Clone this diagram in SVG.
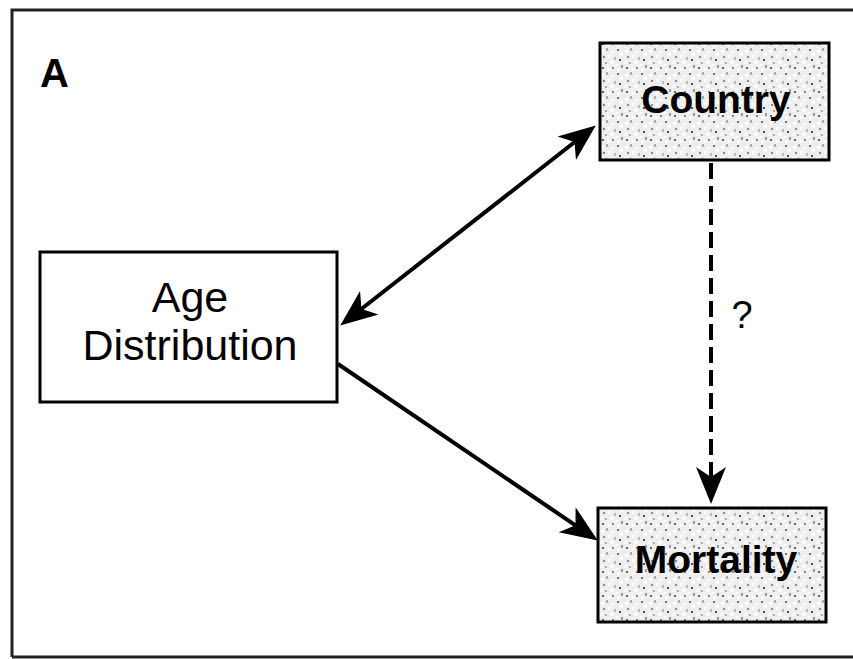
<svg xmlns="http://www.w3.org/2000/svg" width="853" height="659" viewBox="0 0 853 659">
<style>
.box{stroke:#000;stroke-width:3}
.plain{fill:#fff}
.shaded{fill:url(#stipple)}
.lbl{font-family:"Liberation Sans",Arial,sans-serif;fill:#000;text-anchor:middle}
.conn{stroke:#000;stroke-width:4;fill:none}
</style>
<defs>
<pattern id="stipple" patternUnits="userSpaceOnUse" width="24" height="24">
<rect width="24" height="24" fill="#eeeeee"/>
<rect x="1" y="2" width="3" height="3" fill="#fff"/>
<rect x="6" y="0" width="2" height="3" fill="#aaa"/>
<rect x="11" y="3" width="3" height="2" fill="#fff"/>
<rect x="17" y="1" width="2" height="2" fill="#777"/>
<rect x="20" y="5" width="3" height="3" fill="#fff"/>
<rect x="3" y="8" width="2" height="2" fill="#888"/>
<rect x="8" y="7" width="3" height="3" fill="#fff"/>
<rect x="14" y="9" width="2" height="3" fill="#bbb"/>
<rect x="19" y="11" width="2" height="2" fill="#555"/>
<rect x="0" y="13" width="3" height="3" fill="#fff"/>
<rect x="5" y="14" width="2" height="2" fill="#aaa"/>
<rect x="10" y="13" width="3" height="3" fill="#fff"/>
<rect x="15" y="16" width="3" height="2" fill="#fff"/>
<rect x="21" y="17" width="2" height="3" fill="#999"/>
<rect x="2" y="19" width="2" height="2" fill="#666"/>
<rect x="7" y="20" width="3" height="3" fill="#fff"/>
<rect x="12" y="19" width="2" height="2" fill="#888"/>
<rect x="17" y="21" width="3" height="2" fill="#fff"/>
</pattern>
<marker id="ah" markerUnits="userSpaceOnUse" markerWidth="40" markerHeight="34" viewBox="0 -17 40 34" refX="30" refY="0" orient="auto-start-reverse">
<path d="M37,0 L0,-15 L10,0 L0,15 Z" fill="#000"/>
</marker>
</defs>
<g id="frame">
<path d="M12,657 L12,10 L853,10 M12,657 L853,657" stroke="#222" stroke-width="3" fill="none"/>
<text x="40" y="87" font-family="Liberation Sans,Arial,sans-serif" font-weight="bold" font-size="40" fill="#000">A</text>
</g>
<g id="connectors">
<line class="conn" x1="345.7" y1="321.3" x2="590.3" y2="129.7" marker-start="url(#ah)" marker-end="url(#ah)"/>
<line class="conn" x1="338" y1="364" x2="592" y2="536.6" marker-end="url(#ah)"/>
<line class="conn" x1="711" y1="163" x2="711" y2="497" stroke-dasharray="16 7" marker-end="url(#ah)"/>
<text x="742" y="328" class="lbl" font-size="38">?</text>
</g>
<g id="country">
<rect class="box shaded" x="600" y="43" width="229" height="117"/>
<text class="lbl" x="716" y="113" font-size="39" font-weight="bold">Country</text>
</g>
<g id="age-distribution">
<rect class="box plain" x="40" y="252" width="297" height="150"/>
<text class="lbl" x="190" y="312" font-size="43">Age</text>
<text class="lbl" x="190" y="360" font-size="43">Distribution</text>
</g>
<g id="mortality">
<rect class="box shaded" x="598" y="508" width="228" height="114"/>
<text class="lbl" x="716" y="573" font-size="39" font-weight="bold">Mortality</text>
</g>
</svg>
